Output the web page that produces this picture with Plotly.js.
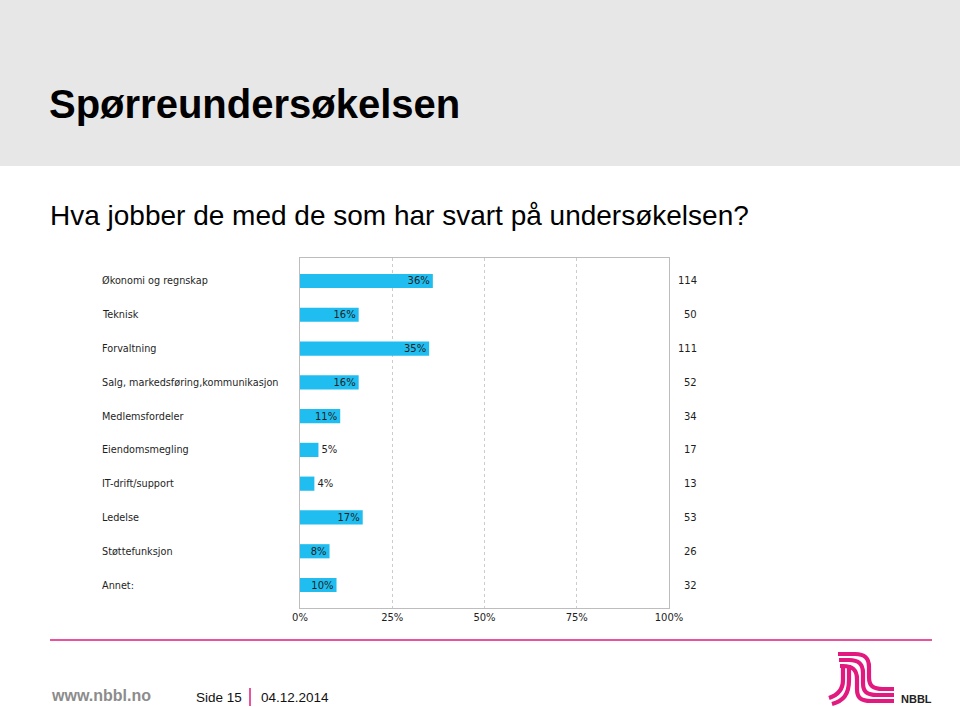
<!DOCTYPE html>
<html>
<head>
<meta charset="utf-8">
<script src="https://cdn.plot.ly/plotly-3.0.1.min.js"></script>
<style>
html,body{margin:0;padding:0;background:#fff;}
#chart{width:960px;height:707px;}
</style>
</head>
<body>
<div id="chart"></div>
<script>
// ---- data ----
const categories = ["Økonomi og regnskap","Teknisk","Forvaltning","Salg, markedsføring,kommunikasjon","Medlemsfordeler","Eiendomsmegling","IT-drift/support","Ledelse","Støttefunksjon","Annet:"];
const shares = [36, 15.9, 35, 15.9, 10.9, 5, 3.9, 17, 8, 9.9];
const shareLabels = ["36%","16%","35%","16%","11%","5%","4%","17%","8%","10%"];
const counts = [114, 50, 111, 52, 34, 17, 13, 53, 26, 32];
const tickValues = [0, 25, 50, 75, 100];
const tickLabels = ["0%","25%","50%","75%","100%"];
const pageTitle = "Spørreundersøkelsen";
const subTitle = "Hva jobber de med de som har svart på undersøkelsen?";

// ---- layout geometry ----
const W = 960, H = 707;
const L = 300, R = 669, T = 258, B = 608;
const pw = R - L, ph = B - T;
const px = x => (x - L) / pw;
const py = y => (B - y) / ph;
const pink = "#e2197e";
const chartFont = "DejaVu Sans, Verdana, sans-serif";

function pathStr(segs){
  return segs.map(s => {
    const pts = [];
    for (let i = 1; i < s.length; i += 2) pts.push(px(s[i]).toFixed(5) + "," + py(s[i+1]).toFixed(5));
    return s[0] + pts.join(" ");
  }).join(" ");
}

const trace = {
  type: "bar",
  orientation: "h",
  x: shares,
  y: categories,
  text: shareLabels,
  textposition: shares.map(v => v < 6 ? "outside" : "inside"),
  insidetextanchor: "end",
  textfont: {family: chartFont, size: 10, color: "#1e1e1e"},
  constraintext: "none",
  cliponaxis: false,
  marker: {color: "#20bef0", line: {width: 0}},
  width: 0.42,
  hoverinfo: "skip"
};

const annotations = [];
categories.forEach((c, i) => {
  annotations.push({xref: "paper", yref: "y", x: px(100), y: c, text: c, showarrow: false,
    xanchor: "left", yanchor: "middle", font: {family: chartFont, size: 9.7, color: "#1e1e1e"}});
  annotations.push({xref: "paper", yref: "y", x: px(699), y: c, text: String(counts[i]), showarrow: false,
    xanchor: "right", yanchor: "middle", font: {family: chartFont, size: 10, color: "#1e1e1e"}});
});
annotations.push({xref: "paper", yref: "paper", x: px(48), y: py(215), text: subTitle, showarrow: false,
  xanchor: "left", yanchor: "middle", font: {family: "Liberation Sans, Arial, sans-serif", size: 28, color: "#000"}});
annotations.push({xref: "paper", yref: "paper", x: px(49), y: py(695), text: "www.nbbl.no", showarrow: false,
  xanchor: "left", yanchor: "middle", font: {family: "Liberation Sans, Arial, sans-serif", size: 16, color: "#8c8c8c", weight: 700}});
annotations.push({xref: "paper", yref: "paper", x: px(194), y: py(697), text: "Side 15", showarrow: false,
  xanchor: "left", yanchor: "middle", font: {family: "Liberation Sans, Arial, sans-serif", size: 13.5, color: "#111"}});
annotations.push({xref: "paper", yref: "paper", x: px(259), y: py(697), text: "04.12.2014", showarrow: false,
  xanchor: "left", yanchor: "middle", font: {family: "Liberation Sans, Arial, sans-serif", size: 13.5, color: "#111"}});
annotations.push({xref: "paper", yref: "paper", x: px(899), y: py(699), text: "NBBL", showarrow: false,
  xanchor: "left", yanchor: "middle", font: {family: "Liberation Sans, Arial, sans-serif", size: 11, color: "#222", weight: 700}});

const shapes = [
  {type: "rect", xref: "paper", yref: "paper", x0: px(0), x1: px(W), y0: py(166), y1: py(0),
   fillcolor: "#e7e7e7", line: {width: 0}, layer: "below"},
  {type: "line", xref: "paper", yref: "paper", x0: px(50), x1: px(932), y0: py(640), y1: py(640),
   line: {color: pink, width: 1.5}},
  {type: "line", xref: "paper", yref: "paper", x0: px(250), x1: px(250), y0: py(688), y1: py(706),
   line: {color: pink, width: 1.5}}
];
// logo: right group of three stripes
[0, 1, 2].forEach(k => {
  const ty = 654 + 6 * k, vx = 869 - 6 * k, by = 689 + 6 * k, sx = 838 + k;
  shapes.push({type: "path", xref: "paper", yref: "paper", line: {color: pink, width: 4.2},
    path: pathStr([["M", sx, ty], ["L", vx - 14, ty], ["C", vx - 4, ty, vx, ty + 4, vx, ty + 13],
                   ["L", vx, by - 12], ["C", vx, by - 3, vx + 4, by, vx + 14, by], ["L", 894, by]])});
});
// logo: left group of two stripes
shapes.push({type: "path", xref: "paper", yref: "paper", line: {color: pink, width: 4.2},
  path: pathStr([["M", 843, 665], ["L", 843, 680], ["C", 843, 690, 838, 695, 829, 698]])});
shapes.push({type: "path", xref: "paper", yref: "paper", line: {color: pink, width: 4.2},
  path: pathStr([["M", 849, 665], ["L", 849, 680], ["C", 849, 695, 843, 701, 832, 704]])});

const layout = {
  width: W, height: H,
  margin: {l: L, r: W - R, t: T, b: H - B, pad: 0},
  paper_bgcolor: "#ffffff",
  plot_bgcolor: "rgba(0,0,0,0)",
  showlegend: false,
  title: {text: pageTitle, xref: "container", yref: "container", x: 49 / W, xanchor: "left",
    y: 1 - 104 / H, yanchor: "middle",
    font: {family: "Liberation Sans, Arial, sans-serif", size: 40, color: "#000", weight: 700}},
  xaxis: {range: [0, 100], tickvals: tickValues, ticktext: tickLabels, showgrid: true,
    gridcolor: "#cccccc", griddash: "dot", gridwidth: 1, zeroline: false,
    showline: true, linecolor: "#bdbdbd", linewidth: 1, mirror: true, ticks: "",
    tickfont: {family: chartFont, size: 10, color: "#1e1e1e"}, fixedrange: true},
  yaxis: {type: "category", range: [9.68, -0.68], autorange: false, showticklabels: false,
    showgrid: false, zeroline: false, showline: true, linecolor: "#bdbdbd", linewidth: 1,
    mirror: true, ticks: "", fixedrange: true},
  annotations: annotations,
  shapes: shapes,
  bargap: 0.58
};

Plotly.newPlot("chart", [trace], layout, {displayModeBar: false, staticPlot: true});
</script>
</body>
</html>
